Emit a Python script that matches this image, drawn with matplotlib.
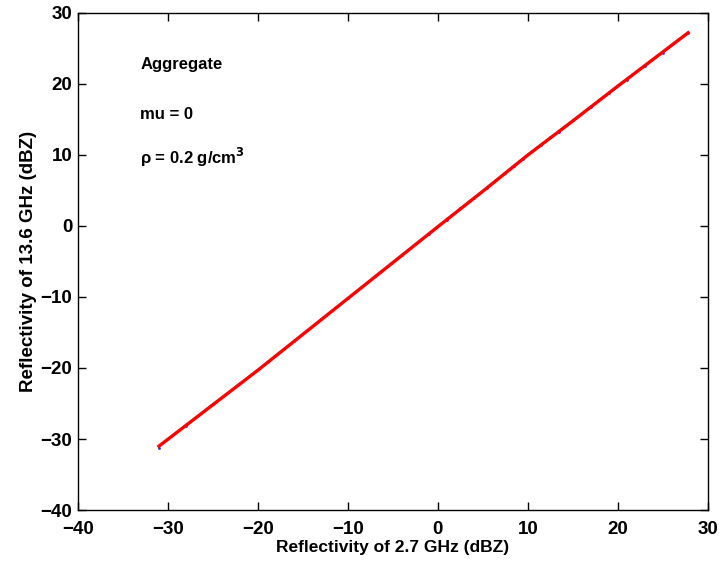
import numpy as np
import matplotlib.pyplot as plt

plt.rcParams.update({"font.family": "Liberation Sans", "font.weight": "bold"})

# -- Data -------------------------------------------------------------
# reflectivity at 2.7 GHz vs 13.6 GHz (dBZ), fitted curve
fit_x = [-31.0, -20.0, -10.0, 0.0, 5.0, 10.0, 15.0, 20.0, 27.8]
fit_y = [-31.0, -20.3, -10.2, -0.1, 4.9, 10.0, 14.8, 19.7, 27.2]

# scattered samples (blue), mostly hidden under the red line
pts_x = [-31.0, -28.0, -25.0, -22.0, -19.0, -16.0, -13.0, -10.0, -7.0, -4.0,
         -1.0, 1.0, 2.5, 4.0, 5.5, 6.5, 7.5, 8.5, 9.5, 10.5, 11.5, 12.5,
         13.5, 15.0, 17.0, 19.0, 21.0, 23.0, 25.0, 27.8]
pts_y = [-31.2, -28.1, -25.1, -22.1, -19.2, -16.2, -13.1, -10.2, -7.1, -4.1,
         -1.1, 0.9, 2.5, 4.0, 5.4, 6.5, 7.4, 8.5, 9.4, 10.5, 11.4, 12.5,
         13.3, 14.9, 16.8, 18.7, 20.6, 22.5, 24.4, 27.2]

labels = ["Aggregate", "mu = 0", "\u03c1 = 0.2 g/cm$^\\mathbf{3}$"]
label_y = [22.8, 15.7, 9.7]


def main():
    fig = plt.figure(figsize=(7.19, 5.62), dpi=100)
    ax = fig.add_axes([0.1085, 0.0925, 0.876, 0.8845])

    ax.plot(pts_x, pts_y, ".", color="#3030ff", markersize=2)
    ax.plot(fit_x, fit_y, "-", color="#ff0000", linewidth=2.4)

    for txt, yy in zip(labels, label_y):
        ax.text(-33.1, yy, txt, fontsize=12, fontweight="bold",
                va="center", ha="left")

    ax.set_xlim(-40, 30)
    ax.set_ylim(-40, 30)
    ticks = list(range(-40, 31, 10))
    tick_text = [f"\u2212{-v}" if v < 0 else str(v) for v in ticks]
    ax.set_xticks(ticks)
    ax.set_yticks(ticks)
    ax.set_xticklabels(tick_text)
    ax.set_yticklabels(tick_text)
    ax.tick_params(direction="in", top=True, right=True, length=6,
                   labelsize=13.5, width=1)
    ax.tick_params(axis="x", pad=8)
    ax.tick_params(axis="y", pad=4)
    for lbl in ax.get_xticklabels() + ax.get_yticklabels():
        lbl.set_fontweight("bold")
    for s in ax.spines.values():
        s.set_linewidth(1)

    ax.set_xlabel("Reflectivity of 2.7 GHz (dBZ)", fontsize=12.5,
                  fontweight="bold", labelpad=1)
    ax.set_ylabel("Reflectivity of 13.6 GHz (dBZ)", fontsize=13.5,
                  fontweight="bold", labelpad=3)

    plt.savefig("out.png", dpi=100)


if __name__ == "__main__":
    main()
